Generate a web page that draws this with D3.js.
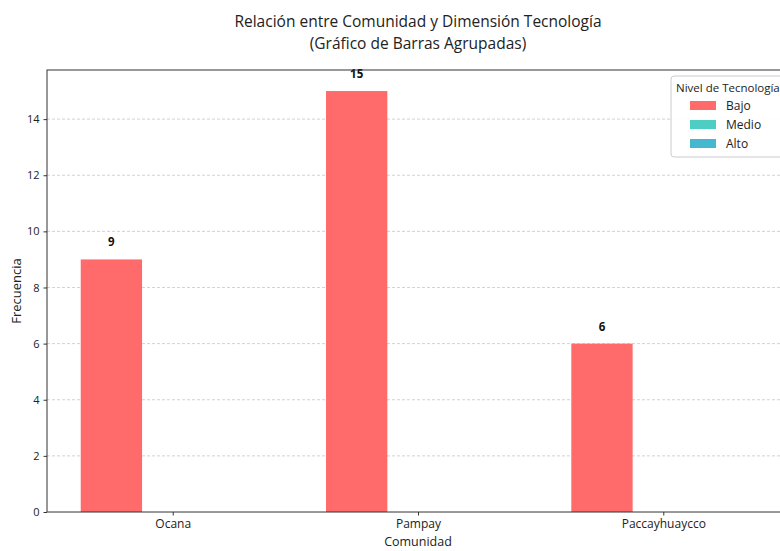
<!DOCTYPE html>
<html><head><meta charset="utf-8">
<script src="https://cdn.jsdelivr.net/npm/d3@7"></script>
<style>body{margin:0;background:#fff;} svg{display:block;font-family:"Open Sans",sans-serif;}</style>
</head><body><svg id="c" width="780" height="551"></svg>
<script>
const categories = ["Ocana", "Pampay", "Paccayhuaycco"];
const levels = ["Bajo", "Medio", "Alto"];
const bajo = [9, 15, 6];
const medio = [0, 0, 0];
const alto = [0, 0, 0];
const colors = ["#FF6B6B", "#4ECDC4", "#45B7D1"];
const yTicks = [0, 2, 4, 6, 8, 10, 12, 14];
const series = [bajo, medio, alto];

const svg = d3.select("#c");
const m = {l: 47, r: 789, t: 70, b: 512};
const barW = 0.25;
const x = d3.scaleLinear().domain([-0.5125, 2.5125]).range([m.l, m.r]);
const y = d3.scaleLinear().domain([0, 15.75]).range([m.b, m.t]);

// grid
svg.append("g").selectAll("line").data(yTicks.filter(d => d > 0)).join("line")
  .attr("x1", m.l).attr("x2", m.r).attr("y1", d => y(d)).attr("y2", d => y(d))
  .attr("stroke", "#b0b0b0").attr("stroke-width", 0.8).attr("stroke-dasharray", "3,2").attr("opacity", 0.7);

// bars
series.forEach((s, si) => {
  svg.append("g").selectAll("rect").data(s).join("rect")
    .attr("x", (d, i) => x(i + (si - 1) * barW - barW / 2))
    .attr("width", x(barW) - x(0))
    .attr("y", d => y(d)).attr("height", d => y(0) - y(d))
    .attr("fill", colors[si]);
  svg.append("g").selectAll("text").data(s.map((v, i) => ({v, i})).filter(d => d.v > 0)).join("text")
    .attr("x", d => x(d.i + (si - 1) * barW))
    .attr("y", d => y(d.v) - 13)
    .attr("text-anchor", "middle").attr("font-size", 11.5).attr("font-weight", "bold").attr("fill", "#111")
    .text(d => d.v);
});

// axes
const yAxis = d3.axisLeft(y).tickValues(yTicks).tickSize(3.5).tickPadding(4);
const gy = svg.append("g").attr("transform", `translate(${m.l},0)`).call(yAxis);
const xAxis = d3.axisBottom(x).tickValues([0, 1, 2]).tickFormat(i => categories[i]).tickSize(3.5).tickPadding(4);
const gx = svg.append("g").attr("transform", `translate(0,${m.b})`).call(xAxis);
[gx, gy].forEach(g => {
  g.select(".domain").remove();
  g.selectAll("line").attr("stroke", "#333");
  g.selectAll("text").attr("fill", "#222").attr("font-size", 12).attr("font-family", "Open Sans, sans-serif");
});
gy.selectAll("text").attr("font-size", 11);

// spines
svg.append("rect").attr("x", m.l).attr("y", m.t).attr("width", m.r - m.l).attr("height", m.b - m.t)
  .attr("fill", "none").attr("stroke", "#333").attr("stroke-width", 1);

// labels
svg.append("text").attr("x", x(1)).attr("y", 546).attr("text-anchor", "middle").attr("font-size", 12.5).attr("fill", "#222").text("Comunidad");
svg.append("text").attr("transform", `translate(21,291) rotate(-90)`).attr("text-anchor", "middle").attr("font-size", 13).attr("fill", "#222").text("Frecuencia");
svg.append("text").attr("x", x(1)).attr("y", 27).attr("text-anchor", "middle").attr("font-size", 15.5).attr("fill", "#222").text("Relación entre Comunidad y Dimensión Tecnología");
svg.append("text").attr("x", x(1)).attr("y", 49).attr("text-anchor", "middle").attr("font-size", 15.5).attr("fill", "#222").text("(Gráfico de Barras Agrupadas)");

// legend
const lg = svg.append("g").attr("transform", "translate(671,76)");
lg.append("rect").attr("width", 115).attr("height", 81).attr("rx", 3).attr("fill", "#fff").attr("fill-opacity", 0.9).attr("stroke", "#ccc");
lg.append("text").attr("x", 5).attr("y", 16).attr("font-size", 11.5).attr("fill", "#222").text("Nivel de Tecnología");
levels.forEach((l, i) => {
  lg.append("rect").attr("x", 19).attr("y", 25 + i * 19).attr("width", 26).attr("height", 9).attr("fill", colors[i]);
  lg.append("text").attr("x", 55).attr("y", 34 + i * 19).attr("font-size", 12).attr("fill", "#222").text(l);
});
</script></body></html>
